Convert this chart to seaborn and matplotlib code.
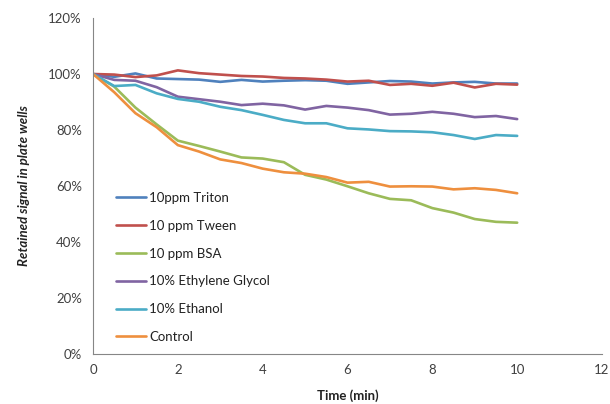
import numpy as np
import pandas as pd
import matplotlib
matplotlib.use("Agg")
import matplotlib.pyplot as plt
from matplotlib.ticker import FuncFormatter
import seaborn as sns

# Time points (min)
time_min = [0, 0.5, 1, 1.5, 2, 2.5, 3, 3.5, 4, 4.5, 5,
            5.5, 6, 6.5, 7, 7.5, 8, 8.5, 9, 9.5, 10]

# Retained signal (%)
triton = [100, 99.0, 100.2, 98.4, 98.2, 98.0, 97.2, 97.9, 97.3, 97.6, 97.8,
          97.6, 96.5, 97.0, 97.5, 97.3, 96.6, 97.0, 97.2, 96.6, 96.6]
tween = [100, 99.8, 98.9, 99.5, 101.3, 100.3, 99.8, 99.3, 99.1, 98.6, 98.4,
         98.0, 97.3, 97.6, 96.1, 96.5, 95.8, 96.9, 95.2, 96.5, 96.2]
bsa = [100, 95.5, 88.0, 82.0, 76.2, 74.3, 72.3, 70.2, 69.8, 68.5, 64.0,
       62.3, 59.9, 57.4, 55.4, 54.9, 52.1, 50.5, 48.2, 47.2, 46.9]
ethylene_glycol = [100, 97.9, 97.6, 95.3, 91.9, 91.0, 90.1, 88.9, 89.4, 88.8, 87.3,
                   88.6, 88.0, 87.1, 85.5, 85.8, 86.5, 85.8, 84.6, 85.0, 83.9]
ethanol = [100, 95.7, 96.1, 93.1, 91.1, 90.1, 88.3, 87.1, 85.4, 83.6, 82.4,
           82.4, 80.6, 80.2, 79.6, 79.5, 79.2, 78.2, 76.8, 78.2, 77.9]
control = [100, 93.5, 86.0, 81.0, 74.6, 72.3, 69.5, 68.2, 66.2, 64.9, 64.4,
           63.2, 61.2, 61.5, 59.8, 59.9, 59.8, 58.8, 59.2, 58.6, 57.4]

series_names = ["10ppm Triton", "10 ppm Tween", "10 ppm BSA",
                "10% Ethylene Glycol", "10% Ethanol", "Control"]
series_values = [triton, tween, bsa, ethylene_glycol, ethanol, control]
colors = ["#4F81BD", "#C0504D", "#9BBB59", "#8064A2", "#4BACC6", "#EE8F3E"]

# long-format table for seaborn
df = pd.concat(
    [pd.DataFrame({"time": time_min, "signal": vals, "series": name})
     for name, vals in zip(series_names, series_values)],
    ignore_index=True,
)

sns.set_style("white")
plt.rcParams["font.family"] = ["Lato", "DejaVu Sans"]

fig = plt.figure(figsize=(6.1, 4.04), dpi=100)
ax = fig.add_axes([0.1525, 0.1238, 0.8344, 0.8316])

sns.lineplot(
    data=df, x="time", y="signal", hue="series",
    hue_order=series_names, palette=dict(zip(series_names, colors)),
    linewidth=1.9, ax=ax, legend=True,
)
for line in ax.get_lines():
    line.set_solid_joinstyle("round")
    line.set_solid_capstyle("round")

ax.set_xlim(0, 12)
ax.set_ylim(0, 120)
ax.set_xticks(np.arange(0, 13, 2))
ax.set_yticks(np.arange(0, 121, 20))
ax.yaxis.set_major_formatter(FuncFormatter(lambda v, p: f"{v:.0f}%"))

for side in ["top", "right"]:
    ax.spines[side].set_visible(False)
for side in ["left", "bottom"]:
    ax.spines[side].set_color("#868686")
    ax.spines[side].set_linewidth(0.8)
ax.tick_params(axis="both", direction="out", length=4, width=0.8,
               color="#868686", labelsize=9.5, labelcolor="#404040", pad=3)
ax.tick_params(axis="y", pad=4)

ax.set_xlabel("Time (min)", fontsize=9.5, fontweight="bold", color="#222222")
ax.set_ylabel("Retained signal in plate wells", fontsize=9.5,
              fontweight="bold", fontstyle="italic", color="#222222")
ax.xaxis.set_label_coords(0.5, -0.105)
ax.yaxis.set_label_coords(-0.123, 0.5)

leg = ax.legend(
    loc="upper left", bbox_to_anchor=(0.19, 0.525),
    bbox_transform=fig.transFigure, frameon=False,
    fontsize=9.5, handlelength=2.3, handletextpad=0.2,
    labelspacing=1.2, borderpad=0, borderaxespad=0,
)
for txt in leg.get_texts():
    txt.set_color("#222222")

fig.savefig("out.png", dpi=100)
